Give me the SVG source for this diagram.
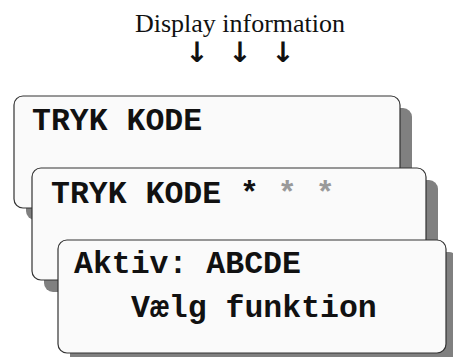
<svg xmlns="http://www.w3.org/2000/svg" width="453" height="357" viewBox="0 0 453 357">
<style>
.shadow{fill:#808080;}
.box{fill:#fafafa;stroke:#333;stroke-width:1.2;}
.lcd{font-family:"Liberation Mono","Courier New",monospace;font-weight:bold;font-size:31.5px;fill:#111;}
.dim{fill:#999;}
.title{font-family:"Liberation Serif","Times New Roman",serif;font-size:26px;fill:#111;}
.arr{font-family:"DejaVu Sans",sans-serif;font-size:28px;fill:#111;font-weight:bold;}
</style>
<g id="title">
<text class="title" x="240" y="32" text-anchor="middle">Display information</text>
<text class="arr" x="197" y="62" text-anchor="middle">↓</text>
<text class="arr" x="240" y="62" text-anchor="middle">↓</text>
<text class="arr" x="283" y="62" text-anchor="middle">↓</text>
</g>
<g id="display1">
<rect class="shadow" x="26" y="108" width="386" height="112" rx="9"/>
<rect class="box" x="14" y="96" width="386" height="112" rx="9"/>
<text class="lcd" x="32" y="130">TRYK KODE</text>
</g>
<g id="display2">
<rect class="shadow" x="44" y="180" width="394" height="112" rx="9"/>
<rect class="box" x="32" y="168" width="394" height="112" rx="9"/>
<text class="lcd" x="51" y="203">TRYK KODE *<tspan class="dim"> * *</tspan></text>
</g>
<g id="display3">
<rect class="shadow" x="70" y="252" width="388" height="113" rx="9"/>
<rect class="box" x="58" y="240" width="388" height="113" rx="9"/>
<text class="lcd" x="74" y="273">Aktiv: ABCDE</text>
<text class="lcd" x="131" y="317">Vælg funktion</text>
</g>
<g id="connectors"/>
</svg>
